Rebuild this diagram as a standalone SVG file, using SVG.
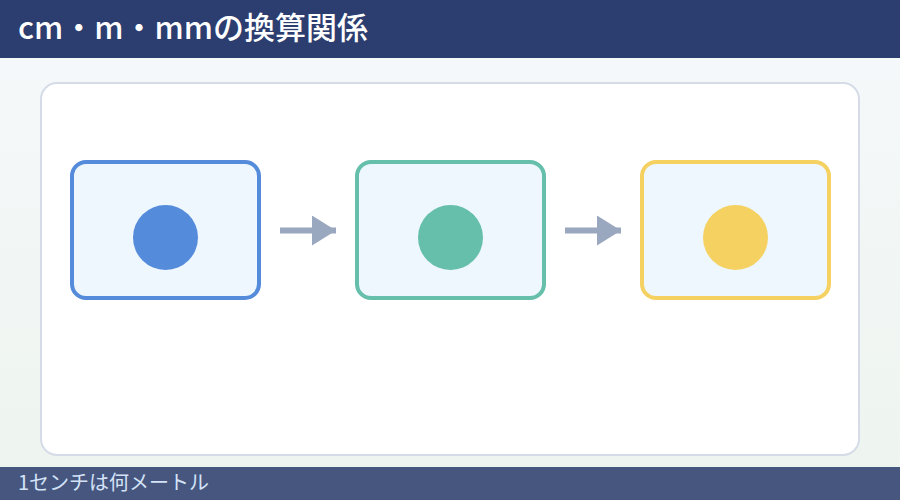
<svg xmlns="http://www.w3.org/2000/svg" width="900" height="500" viewBox="0 0 900 500">
  <defs>
    <linearGradient id="bg" x1="0" y1="0" x2="0" y2="1">
      <stop offset="0" stop-color="#f6f9fc"/>
      <stop offset="1" stop-color="#edf4ee"/>
    </linearGradient>
    <marker id="ah" markerUnits="userSpaceOnUse" markerWidth="24" markerHeight="30" refX="24" refY="15" orient="auto">
      <path d="M0,0 L24,15 L0,30 Z" fill="#9aa8bf"/>
    </marker>
    <style>
      .node { fill: #edf7fd; stroke-width: 4; }
      .conn { stroke: #9aa8bf; stroke-width: 6; fill: none; }
      .title { font-family: "Noto Sans CJK JP", "Noto Sans", sans-serif; font-size: 31px; font-weight: 500; fill: #ffffff; }
      .foot { font-family: "Noto Sans CJK JP", "Noto Sans", sans-serif; font-size: 20px; fill: #d4e3f8; }
    </style>
  </defs>
  <rect x="0" y="0" width="900" height="500" fill="url(#bg)"/>
  <rect x="0" y="0" width="900" height="58" fill="#2c3d70"/>
  <text class="title" x="18" y="39">cm・m・mmの換算関係</text>
  <rect x="41" y="83" width="818" height="372" rx="16" fill="#ffffff" stroke="#d5dce7" stroke-width="2"/>

  <g id="connectors">
    <line class="conn" x1="280" y1="230.5" x2="336" y2="230.5" marker-end="url(#ah)"/>
    <line class="conn" x1="565" y1="230.5" x2="621" y2="230.5" marker-end="url(#ah)"/>
  </g>

  <g id="node-cm">
    <rect class="node" x="72" y="162" width="187" height="136" rx="14" stroke="#558bdb"/>
    <circle cx="165.5" cy="237.5" r="32.5" fill="#558bdb"/>
  </g>
  <g id="node-m">
    <rect class="node" x="357" y="162" width="187" height="136" rx="14" stroke="#65bfab"/>
    <circle cx="450.5" cy="237.5" r="32.5" fill="#65bfab"/>
  </g>
  <g id="node-mm">
    <rect class="node" x="642" y="162" width="187" height="136" rx="14" stroke="#f5d162"/>
    <circle cx="735.5" cy="237.5" r="32.5" fill="#f5d162"/>
  </g>

  <rect x="0" y="467" width="900" height="33" fill="#46567f"/>
  <text class="foot" x="18" y="490">1センチは何メートル</text>
</svg>
